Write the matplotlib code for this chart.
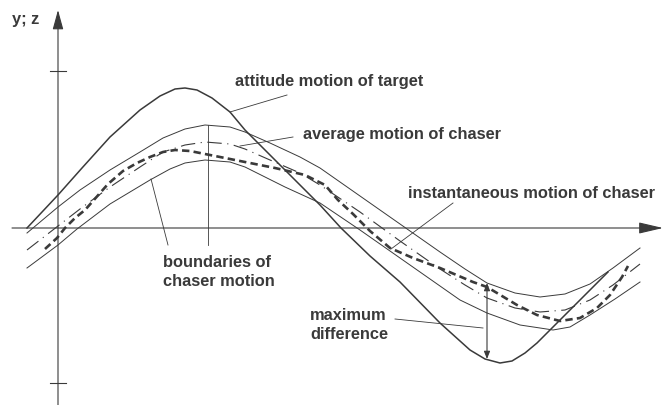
import matplotlib
matplotlib.use("Agg")
import matplotlib.pyplot as plt
import numpy as np

plt.rcParams['font.family'] = ['Liberation Sans', 'DejaVu Sans']

INK = "#3a3a3a"

# attitude motion of the target (origin at the axes crossing)
TARGET_X = [-31, 0, 24, 52, 82, 102, 117, 127, 139, 154, 172, 187, 207, 225, 262, 283,
            312, 342, 382, 412, 427, 442, 454, 467, 479, 492, 515, 532, 550]
TARGET_Y = [0, 33, 60, 91, 118, 132, 139, 140, 138, 130, 116, 98, 78, 60, 23, 0,
            -28, -54, -95, -122, -131, -135, -133, -125, -115, -102, -79, -62, -44]

# chaser: boundaries and average share one time grid
CHASER_X = [-31, 0, 22, 52, 82, 105, 127, 147, 172, 187, 212, 242, 262, 302, 342, 382,
            407, 429, 457, 482, 507, 532, 555, 582]
UPPER_Y = [-5, 21, 38, 58, 76, 90, 99, 103, 101, 96, 85, 71, 60, 32, 4, -24,
           -41, -55, -65, -69, -66, -56, -40, -20]
AVERAGE_Y = [-22, 2, 19, 41, 61, 76, 83, 86, 84, 79, 68, 55, 43, 16, -13, -41,
             -57, -70, -80, -84, -82, -72, -57, -36]
LOWER_X = [-31, 0, 19, 52, 92, 112, 127, 147, 172, 187, 227, 262, 302, 342, 382, 402,
           429, 462, 482, 495, 512, 532, 557, 582]
LOWER_Y = [-40, -17, -1, 24, 48, 59, 65, 68, 66, 61, 41, 25, -2, -30, -58, -72,
           -85, -97, -100, -102, -99, -87, -71, -54]

# instantaneous motion of the chaser
INST_X = [-13, -1, 7, 17, 27, 35, 50, 65, 79, 92, 105, 117, 132, 147, 167, 187, 217, 247,
          267, 280, 295, 312, 332, 355, 382, 415, 429, 444, 459, 479, 502, 522, 539, 552,
          564, 570]
INST_Y = [-21, -10, 0, 10, 18, 27, 44, 57, 65, 71, 76, 78, 77, 74, 70, 66, 60, 53,
          43, 28, 14, -3, -20, -30, -40, -54, -59, -68, -77, -87, -93, -90, -80, -67,
          -49, -38]

fig = plt.figure(figsize=(6.65, 4.05), dpi=100, facecolor="white")
ax = fig.add_axes([0, 0, 1, 1])
ax.set_xlim(-58, 607)
ax.set_ylim(-177, 228)
ax.set_axis_off()

# axes with arrow heads and two ticks on the ordinate
ax.annotate("", xy=(0, 218), xytext=(0, -177),
            arrowprops=dict(arrowstyle="-|>,head_length=1.2,head_width=0.33",
                            lw=0.8, color=INK, shrinkA=0, shrinkB=0))
ax.annotate("", xy=(605, 0), xytext=(-46, 0),
            arrowprops=dict(arrowstyle="-|>,head_length=1.5,head_width=0.35",
                            lw=0.8, color=INK, shrinkA=0, shrinkB=0))
for ty in (157, -155):
    ax.plot([-8, 8], [ty, ty], color=INK, lw=0.8)
ax.text(-46, 204, "y; z", fontsize=11.8, fontweight="bold", color=INK, va="baseline")

# curves
ax.plot(TARGET_X, TARGET_Y, color=INK, lw=1.1)
ax.plot(CHASER_X, UPPER_Y, color=INK, lw=0.7)
ax.plot(LOWER_X, LOWER_Y, color=INK, lw=0.7)
ax.plot(CHASER_X, AVERAGE_Y, color=INK, lw=0.8, ls=(0, (13, 5, 1, 5)))
ax.plot(INST_X, INST_Y, color=INK, lw=1.9, ls=(0, (2.8, 1.6)))

# labels with leader lines
lbl = dict(fontsize=11.8, fontweight="bold", color=INK, va="baseline")
lead = dict(color=INK, lw=0.6)

ax.text(177, 142, "attitude motion of target", **lbl)
ax.plot([229, 172], [133, 116], **lead)

ax.text(245, 89, "average motion of chaser", **lbl)
ax.plot([235, 182], [91, 82], **lead)

ax.text(350, 30, "instantaneous motion of chaser", **lbl)
ax.plot([395, 333], [25, -21], **lead)

ax.text(105, -39, "boundaries of", **lbl)
ax.text(105, -58, "chaser motion", **lbl)
ax.plot([93, 110], [49, -17], **lead)
ax.plot([150, 150], [103, -17], **lead)

ax.text(252, -92, "maximum", **lbl)
ax.text(252, -111, "difference", **lbl)
ax.plot([337, 425], [-91, -100], **lead)
ax.annotate("", xy=(429, -55), xytext=(429, -131),
            arrowprops=dict(arrowstyle="<|-|>,head_length=0.45,head_width=0.18",
                            lw=0.8, color=INK, shrinkA=0, shrinkB=0))

fig.savefig("out.png", dpi=100, facecolor="white")
